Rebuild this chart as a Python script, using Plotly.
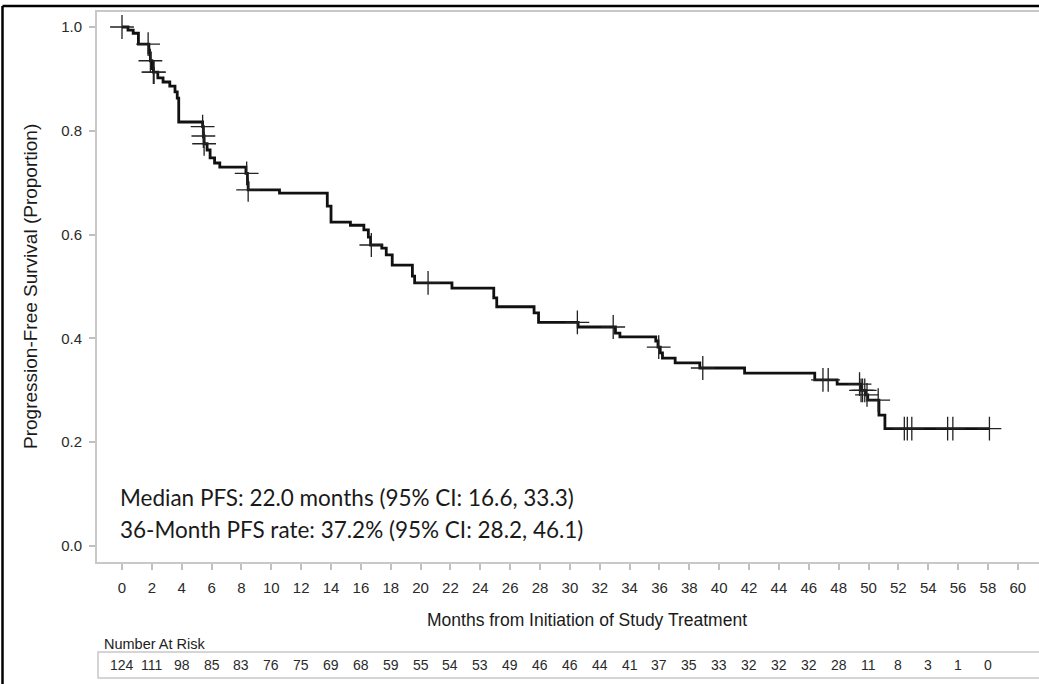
import numpy as np
import plotly.graph_objects as go

# Kaplan-Meier step data (time in months, survival after event)
event_times = [0, 0.4, 0.75, 1.1, 1.8, 1.9, 2.0, 2.1, 2.4, 2.75, 3.2, 3.55, 3.7, 3.8,
               5.4, 5.45, 5.5, 5.7, 5.9, 6.2, 6.55, 8.3, 8.4, 8.45, 10.55,
               13.75, 14.0, 15.3, 16.2, 16.5, 16.65, 17.4, 17.7, 18.1, 19.45, 19.6,
               22.1, 24.9, 25.1, 27.6, 27.9, 30.55, 33.05, 33.35,
               35.75, 35.9, 36.05, 36.2, 37.05, 38.7, 41.7, 46.4, 47.9,
               49.5, 49.8, 49.95, 50.7, 51.1]
survival = [1.0, 0.994, 0.988, 0.967, 0.95, 0.935, 0.92, 0.913, 0.902, 0.894, 0.886, 0.875, 0.863, 0.817,
            0.808, 0.79, 0.775, 0.763, 0.748, 0.738, 0.730, 0.718, 0.70, 0.686, 0.680,
            0.655, 0.624, 0.618, 0.609, 0.595, 0.580, 0.574, 0.561, 0.541, 0.52, 0.507,
            0.497, 0.478, 0.461, 0.449, 0.431, 0.422, 0.41, 0.403,
            0.395, 0.383, 0.372, 0.362, 0.353, 0.343, 0.333, 0.320, 0.312,
            0.300, 0.291, 0.281, 0.252, 0.226]
end_time = 58.1

censor_times = [0, 1.75, 1.9, 2.1, 2.15, 5.4, 5.45, 5.5, 8.35, 8.45, 16.7, 20.5, 30.5,
                32.9, 35.95, 38.9, 46.95, 47.3, 49.4, 49.5, 49.6, 49.75, 49.9, 50.65,
                52.4, 52.6, 52.9, 55.3, 55.65, 58.1]

risk_times = list(range(0, 60, 2))
at_risk = [124, 111, 98, 85, 83, 76, 75, 69, 68, 59, 55, 54, 53, 49, 46, 46, 44, 41,
           37, 35, 33, 32, 32, 32, 28, 11, 8, 3, 1, 0]

x_ticks = list(range(0, 61, 2))
y_ticks = [0.0, 0.2, 0.4, 0.6, 0.8, 1.0]

median_text = "Median PFS: 22.0 months (95% CI: 16.6, 33.3)"
rate_text = "36-Month PFS rate: 37.2% (95% CI: 28.2, 46.1)"

# step curve arrays
xs = list(event_times) + [end_time]
ys = list(survival) + [survival[-1]]

et = np.array(event_times)
sv = np.array(survival)
cens_y = [float(sv[np.searchsorted(et, t, side="right") - 1]) for t in censor_times]

fig = go.Figure()
fig.add_trace(go.Scatter(x=xs, y=ys, mode="lines", line=dict(shape="hv", color="#111111", width=2.8),
                         hoverinfo="skip", showlegend=False))
fig.add_trace(go.Scatter(x=censor_times, y=cens_y, mode="markers",
                         marker=dict(symbol="cross-thin", size=17,
                                     line=dict(color="#222222", width=1.3)),
                         showlegend=False, cliponaxis=False))

W, H = 1039, 684
L, R, T, B = 97, 0, 12, 122
pw, ph = W - L - R, H - T - B

def px(xp):
    return (xp - L) / pw

def py(yp):
    return (H - B - yp) / ph

FONT = "Liberation Sans, Arial, sans-serif"
axis_font = dict(family=FONT, size=15, color="#2a2a2a")

fig.update_layout(
    width=W, height=H,
    margin=dict(l=L, r=R, t=T, b=B, pad=0),
    paper_bgcolor="white", plot_bgcolor="white",
    xaxis=dict(range=[-(122 - L) / 14.93, (W - 122) / 14.93], tickvals=x_ticks,
               ticks="outside", ticklen=6, tickcolor="#c0c0c0", tickwidth=1.5,
               showline=True, linecolor="#c8c8c8", linewidth=2, mirror=True,
               showgrid=False, zeroline=False, tickfont=axis_font, ticklabelstandoff=5),
    yaxis=dict(range=[-16 / 519, 1 + 15 / 519], tickvals=y_ticks, tickformat=".1f",
               ticks="outside", ticklen=6, tickcolor="#c0c0c0", tickwidth=1.5,
               showline=True, linecolor="#c8c8c8", linewidth=2,
               showgrid=False, zeroline=False, tickfont=axis_font, ticklabelstandoff=4),
)

ann = []
ann.append(dict(text="Progression-Free Survival (Proportion)", xref="paper", yref="paper",
                x=px(30), y=py(287), xanchor="center", yanchor="middle", textangle=-90, showarrow=False,
                font=dict(family=FONT, size=19, color="#1a1a1a")))
ann.append(dict(text="Months from Initiation of Study Treatment", xref="paper", yref="paper",
                x=px(587), y=py(620), xanchor="center", yanchor="middle", showarrow=False,
                font=dict(family=FONT, size=17.5, color="#1a1a1a")))
ann.append(dict(text="Number At Risk", xref="paper", yref="paper", x=px(102), y=py(644),
                xanchor="left", yanchor="middle", showarrow=False,
                font=dict(family=FONT, size=14.5, color="#222222")))
for t, n in zip(risk_times, at_risk):
    ann.append(dict(text=str(n), xref="x", yref="paper", x=t, y=py(665), xanchor="center",
                    yanchor="middle", showarrow=False,
                    font=dict(family=FONT, size=14, color="#2a2a2a")))
ann.append(dict(text=median_text, xref="x", yref="y", x=-0.3, y=(546 - 497) / 519, xanchor="left",
                yanchor="middle", showarrow=False,
                font=dict(family="Lato, Open Sans, sans-serif", size=22.5, color="#1a1a1a")))
ann.append(dict(text=rate_text, xref="x", yref="y", x=-0.3, y=(546 - 529) / 519, xanchor="left",
                yanchor="middle", showarrow=False,
                font=dict(family="Lato, Open Sans, sans-serif", size=22.5, color="#1a1a1a")))
fig.update_layout(annotations=ann)

shapes = [
    dict(type="rect", xref="paper", yref="paper", x0=px(98), x1=px(1100), y0=py(678), y1=py(652),
         line=dict(color="#c8c8c8", width=1.5)),
    dict(type="line", xref="paper", yref="paper", x0=px(2.5), x1=px(2.5), y0=py(6), y1=py(700),
         line=dict(color="black", width=2.5)),
    dict(type="line", xref="paper", yref="paper", x0=px(2.5), x1=px(1100), y0=py(6), y1=py(6),
         line=dict(color="black", width=2.5)),
]
fig.update_layout(shapes=shapes)

fig.write_html("out.html", config={"displayModeBar": False},
               post_script="document.body.style.margin='0';document.body.style.overflow='hidden';")
